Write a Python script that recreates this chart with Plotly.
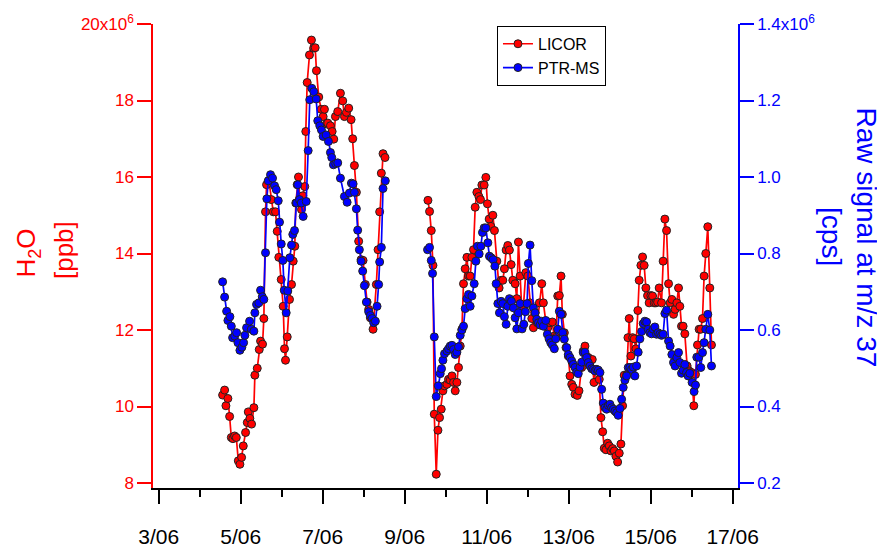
import pandas as pd
import plotly.graph_objects as go

# ---------------- data (day of June, fractional) ----------------
licor_day_1 = [4.558,4.607,4.639,4.687,4.729,4.770,4.809,4.851,4.892,4.941,
               4.980,5.021,5.062,5.118,5.160,5.184,5.223,5.265,5.321,5.345,
               5.403,5.452,5.484,5.532,5.564,5.605,5.630,5.686,5.744,5.793,
               5.849,5.890,5.929,5.988,6.036,6.068,6.092,6.134,6.190,6.239,
               6.280,6.319,6.343,6.377,6.409,6.441,6.482,6.514,6.562,6.587,
               6.621,6.677,6.725,6.782,6.816,6.847,6.903,6.962,7.010,7.042,
               7.091,7.123,7.188,7.230,7.269,7.310,7.366,7.432,7.488,7.529,
               7.578,7.634,7.692,7.731,7.773,7.821,7.877,7.936,7.984,8.040,
               8.082,8.121,8.162,8.228,8.308,8.350,8.389,8.430,8.471,8.520]
licor_h2o_1 = [10.30,10.43,10.02,10.21,9.74,9.19,9.16,9.23,9.19,8.58,
               8.49,8.67,8.97,9.32,9.58,9.86,9.69,9.54,9.97,10.82,
               11.00,11.49,11.71,11.63,12.30,15.09,15.80,15.91,15.41,15.09,
               15.09,14.58,13.90,13.32,12.62,11.51,11.21,11.82,12.80,13.19,
               13.80,14.19,15.32,15.80,16.00,15.45,15.15,15.51,15.75,17.19,
               18.47,19.19,19.58,19.37,19.38,18.78,18.09,17.77,17.58,17.77,
               17.39,17.41,17.34,17.19,16.99,17.58,17.71,18.19,17.99,17.58,
               17.69,17.80,17.50,17.00,16.30,15.60,14.32,13.84,13.82,13.19,
               12.73,12.54,12.32,12.02,13.19,14.10,15.09,16.10,16.61,16.51]

licor_day_2 = [9.567,9.606,9.648,9.689,9.721,9.769,9.811,9.850,9.891,9.932,
               9.971,10.030,10.069,10.110,10.152,10.191,10.232,10.273,10.312,10.354,
               10.395,10.434,10.475,10.517,10.556,10.597,10.639,10.678,10.719,10.760,
               10.809,10.848,10.882,10.938,10.979,11.018,11.060,11.101,11.150,11.189,
               11.247,11.303,11.352,11.393,11.432,11.474,11.515,11.554,11.596,11.637,
               11.693,11.734,11.774,11.815,11.856,11.895,11.954,12.003,12.058,12.100,
               12.139,12.180,12.236,12.285,12.343,12.382,12.441,12.489,12.545,12.601,
               12.643,12.691,12.733,12.772,12.813,12.845,12.894,12.935,12.991,13.032,
               13.074,13.113,13.154,13.210,13.251,13.317,13.356,13.397,13.439,13.478,
               13.519,13.575,13.617,13.665,13.707,13.746,13.787,13.829,13.868,13.909,
               13.950,13.989,14.031,14.072,14.111,14.152,14.194,14.233,14.274,14.315,
               14.354,14.413,14.445,14.476,14.518,14.559,14.598,14.639,14.688,14.720,
               14.761,14.802,14.841,14.883,14.924,14.963,15.005,15.046,15.085,15.126,
               15.168,15.207,15.265,15.304,15.346,15.387,15.436,15.475,15.516,15.557,
               15.596,15.638,15.679,15.711,15.752,15.791,15.833,15.889,15.938,15.996,
               16.052,16.093,16.142,16.181,16.222,16.264,16.303,16.344,16.393,16.442,
               16.483]
licor_h2o_2 = [15.39,15.10,14.60,13.69,9.80,8.23,9.38,9.71,9.93,10.41,
               10.54,10.58,10.71,10.69,10.80,10.63,10.41,10.63,11.02,11.58,
               12.02,13.21,13.60,13.90,13.41,13.41,13.90,14.10,15.21,15.60,
               15.49,15.41,15.79,15.79,15.99,15.30,14.90,14.71,15.00,14.60,
               13.80,13.10,13.30,13.30,13.60,14.09,14.21,14.09,13.71,13.30,
               13.21,12.82,14.30,13.41,12.54,12.61,13.50,13.41,12.71,12.30,
               12.06,12.45,12.19,12.71,13.21,12.71,12.23,12.06,12.19,12.21,
               11.84,11.81,12.89,12.90,13.41,12.41,11.93,11.54,11.32,10.80,
               10.58,10.50,10.32,10.29,10.41,11.02,11.45,11.58,11.30,11.28,
               11.15,11.23,10.63,10.97,10.95,10.71,9.71,9.34,8.91,8.87,
               9.04,8.97,8.84,8.90,8.84,8.70,8.55,8.78,9.02,10.02,
               10.82,10.83,11.80,12.30,11.32,11.80,11.77,11.51,12.51,13.30,
               13.69,13.91,13.69,13.10,12.90,12.71,12.90,12.89,12.71,12.71,
               12.73,13.10,12.71,13.80,14.90,14.60,13.21,12.71,12.80,12.41,
               12.54,12.71,13.10,12.62,12.10,12.10,11.90,11.06,10.93,10.89,
               10.02,10.84,11.61,12.02,12.02,12.30,13.41,14.00,14.70,13.10,
               11.61]

ptr_day_1 = [4.558,4.607,4.656,4.687,4.736,4.770,4.802,4.851,4.899,4.931,
             4.980,5.028,5.070,5.101,5.143,5.216,5.257,5.321,5.345,5.386,
             5.442,5.484,5.525,5.564,5.605,5.637,5.671,5.727,5.776,5.825,
             5.866,5.915,5.946,5.988,6.027,6.061,6.109,6.148,6.197,6.239,
             6.270,6.312,6.360,6.392,6.433,6.475,6.523,6.597,6.645,6.684,
             6.733,6.782,6.840,6.879,6.928,6.969,7.010,7.084,7.140,7.188,
             7.220,7.261,7.317,7.366,7.432,7.529,7.595,7.651,7.700,7.741,
             7.773,7.821,7.853,7.894,7.936,7.975,8.016,8.065,8.121,8.162,
             8.204,8.243,8.284,8.325,8.364,8.389,8.430,8.471,8.527]
ptr_sig_1 = [0.726,0.686,0.649,0.625,0.635,0.610,0.580,0.584,0.593,0.567,
             0.547,0.555,0.567,0.586,0.606,0.623,0.602,0.597,0.645,0.667,
             0.671,0.704,0.687,0.680,0.802,0.943,0.990,1.006,0.997,0.977,
             0.967,0.938,0.882,0.825,0.782,0.704,0.645,0.702,0.789,0.822,
             0.850,0.860,0.932,0.980,0.941,0.932,0.897,0.936,1.069,1.202,
             1.232,1.223,1.204,1.147,1.134,1.123,1.106,1.110,1.093,1.064,
             1.051,1.032,1.035,1.037,0.997,0.949,0.934,0.958,0.984,0.982,
             0.960,0.917,0.861,0.810,0.780,0.754,0.716,0.673,0.648,0.638,
             0.630,0.619,0.623,0.662,0.719,0.778,0.816,0.970,0.990]

ptr_day_2 = [9.557,9.606,9.648,9.679,9.721,9.769,9.818,9.867,9.898,9.932,
             9.971,10.030,10.069,10.110,10.152,10.191,10.232,10.273,10.312,10.354,
             10.395,10.434,10.475,10.517,10.556,10.597,10.639,10.695,10.736,10.775,
             10.816,10.858,10.897,10.938,10.979,11.028,11.067,11.109,11.157,11.199,
             11.230,11.272,11.311,11.352,11.393,11.432,11.474,11.515,11.554,11.603,
             11.652,11.693,11.734,11.774,11.815,11.863,11.905,11.944,11.985,12.017,
             12.058,12.100,12.139,12.180,12.221,12.260,12.302,12.343,12.382,12.441,
             12.480,12.521,12.562,12.601,12.650,12.684,12.733,12.772,12.813,12.855,
             12.894,12.952,12.991,13.032,13.074,13.113,13.154,13.195,13.234,13.276,
             13.317,13.356,13.397,13.439,13.478,13.519,13.561,13.600,13.641,13.683,
             13.722,13.763,13.804,13.843,13.884,13.926,13.965,14.006,14.048,14.087,
             14.128,14.169,14.208,14.250,14.291,14.330,14.371,14.413,14.452,14.493,
             14.534,14.574,14.615,14.656,14.695,14.737,14.778,14.817,14.858,14.900,
             14.939,14.980,15.021,15.061,15.102,15.143,15.182,15.224,15.265,15.304,
             15.346,15.387,15.436,15.475,15.516,15.557,15.596,15.638,15.679,15.711,
             15.752,15.791,15.833,15.874,15.913,15.954,16.010,16.059,16.093,16.125,
             16.174,16.222,16.264,16.303,16.344,16.393,16.442,16.483]
ptr_sig_2 = [0.810,0.816,0.782,0.748,0.582,0.426,0.454,0.486,0.499,0.521,
             0.538,0.545,0.551,0.558,0.560,0.549,0.536,0.542,0.556,0.586,
             0.600,0.610,0.656,0.682,0.693,0.662,0.689,0.721,0.780,0.819,
             0.799,0.819,0.855,0.867,0.867,0.828,0.793,0.789,0.784,0.767,
             0.721,0.669,0.645,0.675,0.669,0.635,0.615,0.662,0.682,0.675,
             0.658,0.632,0.603,0.645,0.669,0.603,0.615,0.648,0.669,0.774,
             0.822,0.729,0.658,0.645,0.628,0.619,0.613,0.623,0.610,0.625,
             0.589,0.577,0.567,0.561,0.551,0.577,0.602,0.649,0.641,0.593,
             0.576,0.554,0.536,0.528,0.519,0.510,0.502,0.490,0.486,0.503,
             0.516,0.541,0.542,0.528,0.515,0.506,0.499,0.497,0.493,0.497,
             0.495,0.489,0.445,0.409,0.397,0.393,0.403,0.406,0.397,0.393,
             0.388,0.384,0.377,0.395,0.419,0.450,0.469,0.480,0.502,0.502,
             0.497,0.503,0.480,0.506,0.542,0.577,0.596,0.617,0.623,0.621,
             0.602,0.593,0.590,0.602,0.608,0.589,0.593,0.589,0.586,0.589,
             0.643,0.652,0.571,0.558,0.536,0.515,0.506,0.528,0.541,0.515,
             0.487,0.495,0.510,0.489,0.480,0.487,0.463,0.439,0.456,0.529,
             0.529,0.502,0.541,0.567,0.602,0.641,0.600,0.506]

h2o_ticks = [8, 10, 12, 14, 16, 18, 20]
h2o_ticktext = ["8", "10", "12", "14", "16", "18", "20x10<sup>6</sup>"]
sig_ticks = [0.2, 0.4, 0.6, 0.8, 1.0, 1.2, 1.4]
sig_ticktext = ["0.2", "0.4", "0.6", "0.8", "1.0", "1.2", "1.4x10<sup>6</sup>"]
x_range_days = [2.86, 17.13]

BASE = pd.Timestamp("2011-06-01")


def to_dt(days):
    return [BASE + pd.Timedelta(days=d - 1) for d in days]


def join(d1, v1, d2, v2):
    return to_dt(d1) + [None] + to_dt(d2), list(v1) + [None] + list(v2)


FONT = "Liberation Sans, Arial, sans-serif"
RED = "#ff0000"
BLUE = "#0000ff"

lx, ly = join(licor_day_1, licor_h2o_1, licor_day_2, licor_h2o_2)
px, py = join(ptr_day_1, ptr_sig_1, ptr_day_2, ptr_sig_2)

fig = go.Figure()
fig.add_trace(go.Scatter(
    x=lx, y=ly, name="LICOR", mode="lines+markers", connectgaps=False,
    line=dict(color=RED, width=1.7),
    marker=dict(color=RED, size=8, line=dict(color="#222222", width=1)),
))
fig.add_trace(go.Scatter(
    x=px, y=py, name="PTR-MS", mode="lines+markers", connectgaps=False, yaxis="y2",
    line=dict(color=BLUE, width=1.7),
    marker=dict(color=BLUE, size=8, line=dict(color="#222222", width=1)),
))


def title_note(text, x, y, angle, color, size):
    return dict(text=text, x=x, y=y, xref="paper", yref="paper", textangle=angle,
                showarrow=False, font=dict(size=size, color=color, family=FONT),
                xanchor="center", yanchor="middle")


xr = to_dt(x_range_days)
# the page body adds an 8 px offset at the top-left, so the figure is 8 px smaller than the window
fig.update_layout(
    width=877, height=539,
    margin=dict(l=145, r=147, t=16, b=59, autoexpand=False),
    paper_bgcolor="white", plot_bgcolor="white",
    font=dict(family=FONT, size=17, color="black"),
    showlegend=True,
    legend=dict(x=0.588, y=0.996, xanchor="left", yanchor="top",
                bgcolor="white", bordercolor="black", borderwidth=1,
                font=dict(size=16, color="black"), tracegroupgap=0),
    xaxis=dict(
        range=xr, showgrid=False, zeroline=False,
        showline=True, linecolor="black", linewidth=1.5,
        ticks="outside", ticklen=14, tickwidth=1.5, tickcolor="black",
        tick0=BASE + pd.Timedelta(days=2), dtick=2 * 86400000,
        tickformat="%-d/%m", tickfont=dict(size=21, color="black"),
        ticklabelstandoff=15,
        minor=dict(ticks="outside", ticklen=7, tickwidth=1.5, tickcolor="black",
                   dtick=86400000, tick0=BASE + pd.Timedelta(days=2), showgrid=False),
    ),
    yaxis=dict(
        range=[7.87, 20], showgrid=False, zeroline=False,
        showline=True, linecolor=RED, linewidth=1.5,
        ticks="outside", ticklen=14, tickwidth=1.5, tickcolor=RED,
        tickvals=h2o_ticks, ticktext=h2o_ticktext,
        tickfont=dict(size=17, color=RED),
    ),
    yaxis2=dict(
        range=[0.187, 1.4], overlaying="y", side="right", anchor="x",
        showgrid=False, zeroline=False,
        showline=True, linecolor=BLUE, linewidth=1.5,
        ticks="outside", ticklen=14, tickwidth=1.5, tickcolor=BLUE,
        tickvals=sig_ticks, ticktext=sig_ticktext,
        tickfont=dict(size=17, color=BLUE),
    ),
    annotations=[
        title_note("H<sub>2</sub>O", -0.214, 0.507, -90, RED, 26),
        title_note("[ppb]", -0.152, 0.513, -90, RED, 26),
        title_note("Raw signal at m/z 37", 1.2205, 0.540, 90, BLUE, 28),
        title_note("[cps]", 1.1607, 0.543, 90, BLUE, 28),
    ],
)

fig.write_html("out.html")
